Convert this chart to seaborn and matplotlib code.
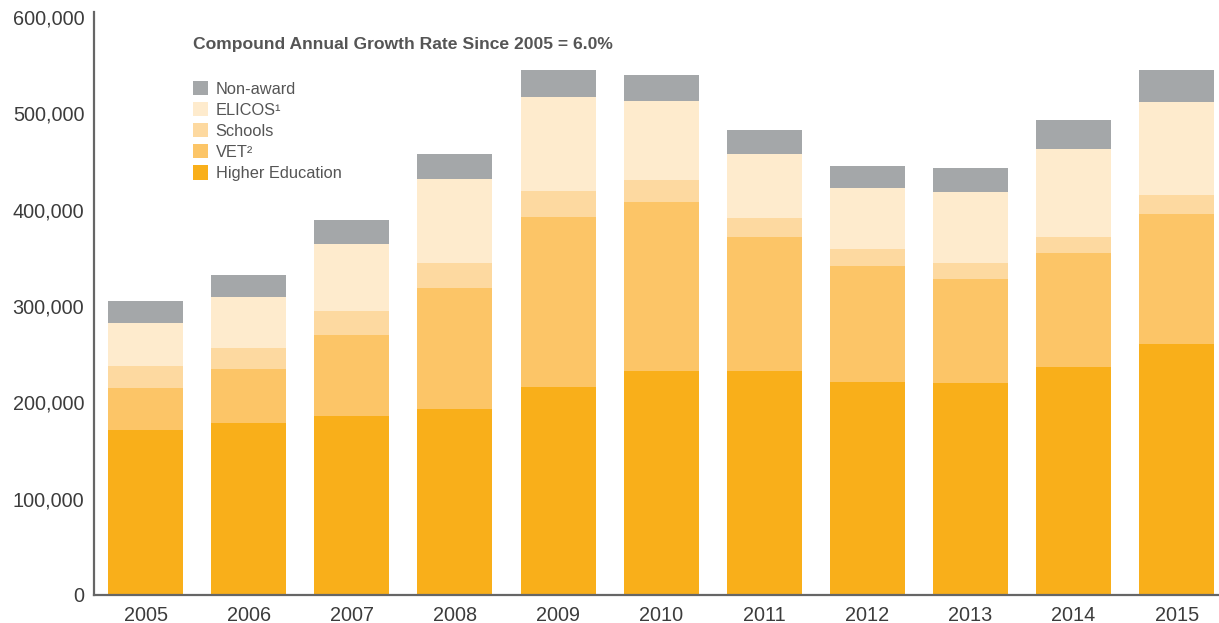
import numpy as np
import pandas as pd
import matplotlib
matplotlib.use("Agg")
import matplotlib.pyplot as plt
from matplotlib.patches import Patch
from matplotlib.ticker import FuncFormatter
import seaborn as sns

years = ["2005", "2006", "2007", "2008", "2009", "2010", "2011", "2012", "2013", "2014", "2015"]
higher_ed = [171300, 178600, 185800, 193100, 215900, 232500, 232500, 221100, 220100, 236700, 260600]
vet = [43600, 56000, 84100, 125600, 176500, 175500, 139100, 120400, 107900, 118300, 134900]
schools = [22800, 21800, 24900, 26000, 27000, 22800, 19800, 17700, 16700, 16600, 19700]
elicos = [44700, 53000, 69600, 87200, 97600, 82000, 66400, 63300, 73700, 91400, 96600]
non_award = [22800, 22800, 24900, 25900, 28000, 27000, 24900, 22800, 24900, 30100, 33200]

series_names = ["Higher Education", "VET\u00b2", "Schools", "ELICOS\u00b9", "Non-award"]
series_vals = [higher_ed, vet, schools, elicos, non_award]
colors = ["#F9AF1A", "#FCC567", "#FDD9A0", "#FEEBCD", "#A4A7A9"]
title_text = "Compound Annual Growth Rate Since 2005 = 6.0%"

sns.set_style("white")
plt.rcParams["font.family"] = ["Liberation Sans", "DejaVu Sans"]

cum = np.zeros(len(years))
cums = []
for v in series_vals:
    cum = cum + np.array(v)
    cums.append(cum.copy())

fig = plt.figure(figsize=(12.19, 6.23), dpi=100)
ax = fig.add_axes([94 / 1219, 1 - 595 / 623, 1 - 94 / 1219, (595 - 12) / 623])

# draw from the tallest cumulative down so each layer overlays the one above
for name, c, col in reversed(list(zip(series_names, cums, colors))):
    d = pd.DataFrame({"year": years, "value": c})
    sns.barplot(data=d, x="year", y="value", color=col, width=0.727,
                saturation=1, ax=ax, order=years, linewidth=0, edgecolor="none")

ax.set_xlim(-0.5, 10.41)
ax.set_ylim(0, 605000)
ax.set_yticks(np.arange(0, 600001, 100000))
ax.yaxis.set_major_formatter(FuncFormatter(lambda v, p: f"{int(v):,}"))
ax.set_xlabel("")
ax.set_ylabel("")
for s in ["top", "right"]:
    ax.spines[s].set_visible(False)
for s in ["left", "bottom"]:
    ax.spines[s].set_color("#666666")
    ax.spines[s].set_linewidth(1.6)
ax.tick_params(axis="both", length=0, labelsize=14.3, colors="#3c3c3c")
ax.tick_params(axis="y", pad=7)
ax.tick_params(axis="x", pad=8)

ax.text(0.088, 0.945, title_text, transform=ax.transAxes, fontsize=12.6,
        fontweight="bold", color="#555555", va="center", ha="left")

handles = [Patch(facecolor=col, edgecolor="none", label=n)
           for n, col in zip(series_names, colors)][::-1]
leg = ax.legend(handles=handles, loc="upper left", bbox_to_anchor=(0.082, 0.893),
                frameon=False, fontsize=11.8, handlelength=0.95, handleheight=0.95,
                handletextpad=0.45, labelspacing=0.33, borderaxespad=0)
for t in leg.get_texts():
    t.set_color("#555555")

fig.savefig("out.png", dpi=100)
